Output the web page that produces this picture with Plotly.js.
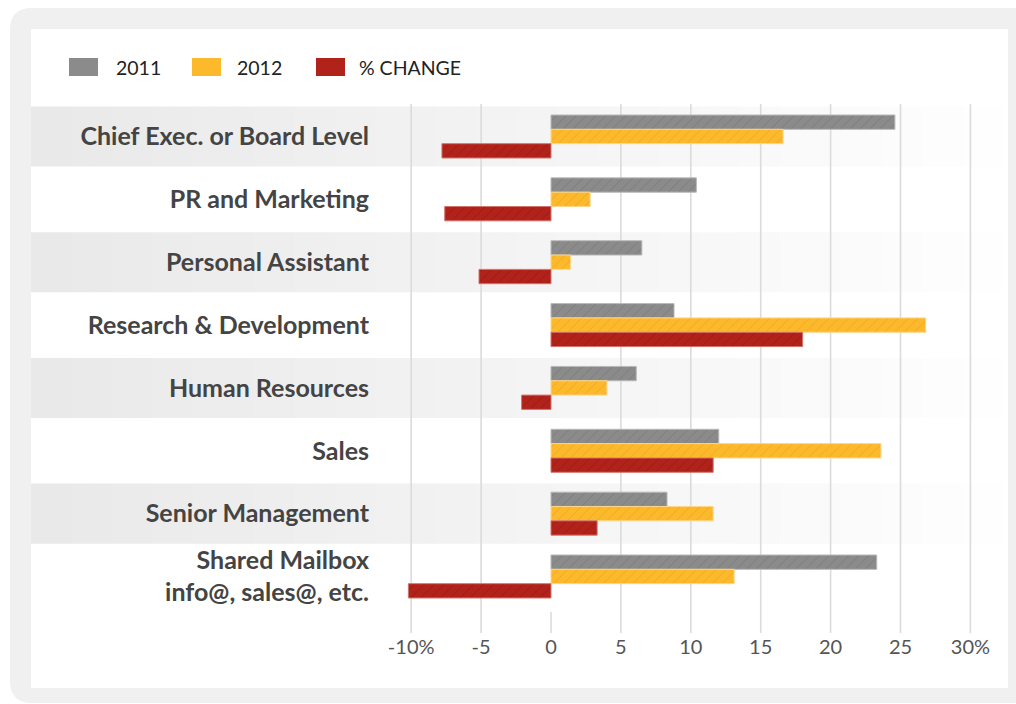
<!DOCTYPE html>
<html><head><meta charset="utf-8">
<script src="https://cdn.plot.ly/plotly-3.0.1.min.js"></script>
<style>html,body{margin:0;padding:0;background:#fff}#chart{width:1016px;height:704px}</style>
</head><body><div id="chart"></div>
<script>
// ---- data ----
const categories = ['Chief Exec. or Board Level','PR and Marketing','Personal Assistant','Research & Development','Human Resources','Sales','Senior Management','Shared Mailbox<br>info@, sales@, etc.'];
const values2011 = [24.6, 10.4, 6.5, 8.8, 6.1, 12.0, 8.3, 23.3];
const values2012 = [16.6, 2.8, 1.4, 26.8, 4.0, 23.6, 11.6, 13.1];
const valuesChange = [-7.8, -7.6, -5.15, 18.0, -2.1, 11.6, 3.3, -10.2];
const seriesNames = ['2011', '2012', '% CHANGE'];
const tickVals = [-10, -5, 0, 5, 10, 15, 20, 25, 30];
const tickLabels = ['-10%', '-5', '0', '5', '10', '15', '20', '25', '30%'];

// ---- layout helpers ----
const W = 1016, H = 704;
const M = {l: 380, r: 16, t: 104, b: 71};
const PW = W - M.l - M.r, PH = H - M.t - M.b;
const px = p => (p - M.l) / PW;
const py = p => 1 - (p - M.t) / PH;
const yRange = [7.899, -0.517];
const yp = v => (yRange[0] - v) / (yRange[0] - yRange[1]);

const colors = ['#8b8b8b', '#fdb92c', '#b1221a'];
const fgColors = ['#747474', '#e8a21e', '#951812'];
const lineColors = ['#b9b9b9', '#fdd68a', '#d2736b'];
const seriesValues = [values2011, values2012, valuesChange];

const traces = seriesValues.map((vals, i) => ({
  type: 'bar', orientation: 'h', x: vals, y: categories, name: seriesNames[i],
  marker: {color: colors[i], line: {color: lineColors[i], width: 1},
    pattern: {shape: '/', fillmode: 'overlay', fgcolor: fgColors[i], fgopacity: 0.7, size: 7, solidity: 0.14}},
  showlegend: false, hoverinfo: 'skip'
}));

const shapes = [];
// outer frame
function roundRect(x0, y0, x1, y1, r) {
  const X0 = px(x0), X1 = px(x1), Y0 = py(y0), Y1 = py(y1);
  const rx = r / PW, ry = r / PH;
  return `M${X0 + rx},${Y0} L${X1 - rx},${Y0} Q${X1},${Y0} ${X1},${Y0 - ry} L${X1},${Y1 + ry} Q${X1},${Y1} ${X1 - rx},${Y1} L${X0 + rx},${Y1} Q${X0},${Y1} ${X0},${Y1 + ry} L${X0},${Y0 - ry} Q${X0},${Y0} ${X0 + rx},${Y0} Z`;
}
shapes.push({type: 'path', xref: 'paper', yref: 'paper', path: roundRect(10, 8, 1040, 703, 22), fillcolor: '#f0f0f0', line: {width: 0}, layer: 'below'});
shapes.push({type: 'rect', xref: 'paper', yref: 'paper', x0: px(31), x1: px(1008), y0: py(29), y1: py(688), fillcolor: '#ffffff', line: {width: 0}, layer: 'below'});

// gradient bands behind alternate rows
const N = 48, bx0 = 31, bx1 = 1003;
categories.forEach((c, i) => {
  if (i % 2 !== 0) return;
  for (let k = 0; k < N; k++) {
    const a = bx0 + (bx1 - bx0) * k / N, b = bx0 + (bx1 - bx0) * (k + 1) / N + 0.6;
    const g = Math.round(233 + (254 - 233) * (k / (N - 1)));
    shapes.push({type: 'rect', xref: 'paper', yref: 'paper', x0: px(a), x1: px(Math.min(b, bx1)),
      y0: yp(i + 0.478), y1: yp(i - 0.478), fillcolor: `rgb(${g},${g},${g})`, line: {width: 0}, layer: 'below'});
  }
});

// gridlines
tickVals.forEach(v => {
  shapes.push({type: 'line', xref: 'x', yref: 'paper', x0: v, x1: v,
    y0: 0, y1: v === 0 ? py(612) : 1, line: {color: '#dddbd7', width: 1.6}, layer: 'below'});
});

// legend
const legendX = [[69, 98, 114], [192, 221, 235], [316, 345, 357]];
const annotations = [];
legendX.forEach((l, i) => {
  shapes.push({type: 'rect', xref: 'paper', yref: 'paper', x0: px(l[0]), x1: px(l[1]), y0: py(76), y1: py(58),
    fillcolor: colors[i], line: {width: 0}});
  annotations.push({xref: 'paper', yref: 'paper', x: px(l[2]), y: py(67.5), xanchor: 'left', yanchor: 'middle',
    text: seriesNames[i], showarrow: false, font: {family: 'Lato, sans-serif', size: 19.5, color: '#222'}});
});

const layout = {
  width: W, height: H, margin: M,
  paper_bgcolor: '#ffffff', plot_bgcolor: 'rgba(0,0,0,0)',
  barmode: 'group', bargap: 0.316, bargroupgap: 0,
  showlegend: false,
  xaxis: {range: [(M.l - 551) / 13.98, (W - M.r - 551) / 13.98], tickvals: tickVals, ticktext: tickLabels,
    showgrid: false, zeroline: false, showline: false, ticks: '', automargin: false,
    tickfont: {family: 'Lato, sans-serif', size: 20, color: '#555'}, fixedrange: true},
  yaxis: {type: 'category', categoryorder: 'array', categoryarray: categories, range: yRange,
    showgrid: false, zeroline: false, showline: false, ticks: '', automargin: false, ticklabelstandoff: 10,
    tickfont: {family: 'Lato, sans-serif', size: 25, color: '#444', weight: 'bold'}, fixedrange: true},
  shapes: shapes, annotations: annotations
};

Plotly.newPlot('chart', traces, layout, {displayModeBar: false, staticPlot: true});
</script>
</body></html>
